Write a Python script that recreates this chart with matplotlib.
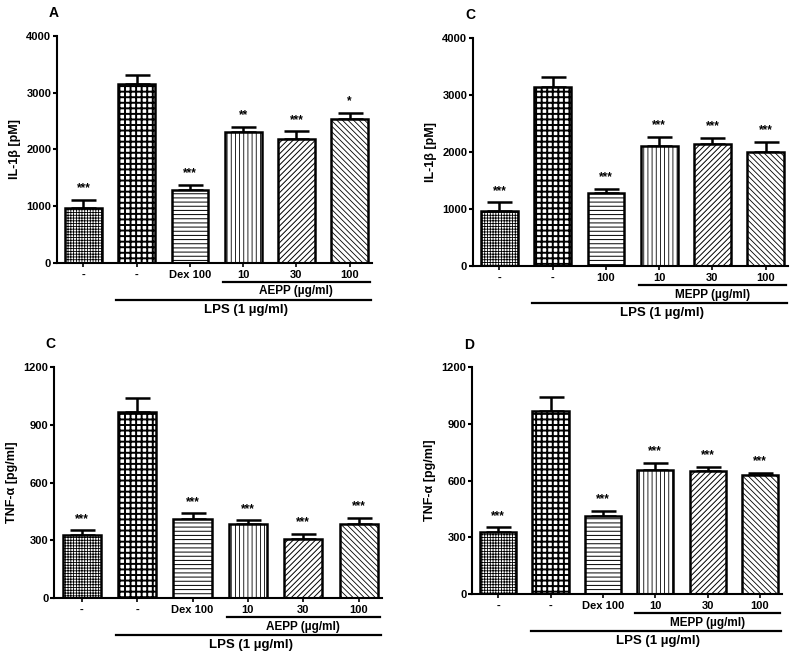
import numpy as np
import matplotlib
matplotlib.use("Agg")
import matplotlib.pyplot as plt
import matplotlib.transforms as mtransforms

plt.rcParams['font.family'] = ['Liberation Sans', 'DejaVu Sans']
plt.rcParams['font.weight'] = 'bold'

# data
il1b_aepp = [970, 3150, 1290, 2310, 2190, 2530]
il1b_aepp_err = [140, 170, 80, 90, 130, 110]
il1b_aepp_sig = ['***', '', '***', '**', '***', '*']

il1b_mepp = [975, 3140, 1285, 2110, 2140, 2000]
il1b_mepp_err = [145, 170, 75, 155, 110, 180]
il1b_mepp_sig = ['***', '', '***', '***', '***', '***']

tnf_aepp = [328, 965, 413, 382, 308, 382]
tnf_aepp_err = [24, 77, 27, 22, 24, 35]
tnf_aepp_sig = ['***', '', '***', '***', '***', '***']

tnf_mepp = [330, 968, 414, 655, 650, 632]
tnf_mepp_err = [23, 75, 25, 40, 22, 10]
tnf_mepp_sig = ['***', '', '***', '***', '***', '***']

labels_dex = ['-', '-', 'Dex 100', '10', '30', '100']
labels_nodex = ['-', '-', '100', '10', '30', '100']

hatches = ['++++++', '+++', '----', '||||', '//////', '\\\\\\\\\\\\']
hatch_lw = [0.6, 1.4, 0.7, 0.6, 0.7, 0.6]


def panel(ax, vals, errs, sig, ticklabels, ylabel, yticks, extract, letter):
    x = np.arange(len(vals))
    bars = ax.bar(x, vals, width=0.69, color='white', edgecolor='black', linewidth=1.8, zorder=2)
    for b, h, hl in zip(bars, hatches, hatch_lw):
        b.set_hatch(h)
        if hasattr(b, 'set_hatch_linewidth'):
            b.set_hatch_linewidth(hl)
    ax.errorbar(x, vals, yerr=[np.zeros(len(vals)), errs], fmt='none', ecolor='black',
                elinewidth=1.8, capsize=9, capthick=1.8, zorder=1)
    top = yticks[-1]
    for xi, v, e, s in zip(x, vals, errs, sig):
        if s:
            ax.annotate(s, (xi, v + e), xytext=(0, 4), textcoords='offset points',
                        ha='center', va='bottom', fontsize=8.5, fontweight='bold')
    ax.set_xlim(-0.5, 5.42)
    ax.set_ylim(0, top)
    ax.set_yticks(yticks)
    ax.set_xticks(x)
    ax.set_xticklabels(ticklabels)
    ax.tick_params(axis='x', length=3, width=1.2, pad=2, labelsize=8)
    ax.tick_params(axis='y', length=3, width=1.5, labelsize=8, pad=1)
    for lab in ax.get_xticklabels() + ax.get_yticklabels():
        lab.set_fontweight('bold')
    ax.spines['top'].set_visible(False)
    ax.spines['right'].set_visible(False)
    ax.spines['left'].set_linewidth(1.5)
    ax.spines['bottom'].set_linewidth(1.5)
    ax.set_ylabel(ylabel, fontsize=9, fontweight='bold', labelpad=4)

    trans = mtransforms.blended_transform_factory(ax.transData, ax.transAxes)
    ax.plot([3 - 0.38, 5 + 0.38], [-0.084, -0.084], color='black', lw=1.6,
            transform=trans, clip_on=False)
    ax.text(4, -0.1, extract + ' (µg/ml)', transform=trans, ha='center', va='top',
            fontsize=8.5, fontweight='bold')
    ax.plot([1 - 0.38, 5 + 0.4], [-0.163, -0.163], color='black', lw=1.6,
            transform=trans, clip_on=False)
    ax.text(3.05, -0.18, 'LPS (1 µg/ml)', transform=trans, ha='center', va='top',
            fontsize=9.5, fontweight='bold')
    ax.text(-0.025, 1.10, letter, transform=ax.transAxes, ha='left', va='center',
            fontsize=10, fontweight='bold')


fig = plt.figure(figsize=(8, 6.57), dpi=100)
ax1 = fig.add_axes([0.071, 0.600, 0.394, 0.345])
ax2 = fig.add_axes([0.591, 0.595, 0.394, 0.347])
ax3 = fig.add_axes([0.0675, 0.090, 0.41, 0.351])
ax4 = fig.add_axes([0.590, 0.096, 0.3875, 0.345])

panel(ax1, il1b_aepp, il1b_aepp_err, il1b_aepp_sig, labels_dex, 'IL-1β [pM]',
      [0, 1000, 2000, 3000, 4000], 'AEPP', 'A')
panel(ax2, il1b_mepp, il1b_mepp_err, il1b_mepp_sig, labels_nodex, 'IL-1β [pM]',
      [0, 1000, 2000, 3000, 4000], 'MEPP', 'C')
panel(ax3, tnf_aepp, tnf_aepp_err, tnf_aepp_sig, labels_dex, 'TNF-α [pg/ml]',
      [0, 300, 600, 900, 1200], 'AEPP', 'C')
panel(ax4, tnf_mepp, tnf_mepp_err, tnf_mepp_sig, labels_dex, 'TNF-α [pg/ml]',
      [0, 300, 600, 900, 1200], 'MEPP', 'D')

fig.savefig('out.png', dpi=100)
